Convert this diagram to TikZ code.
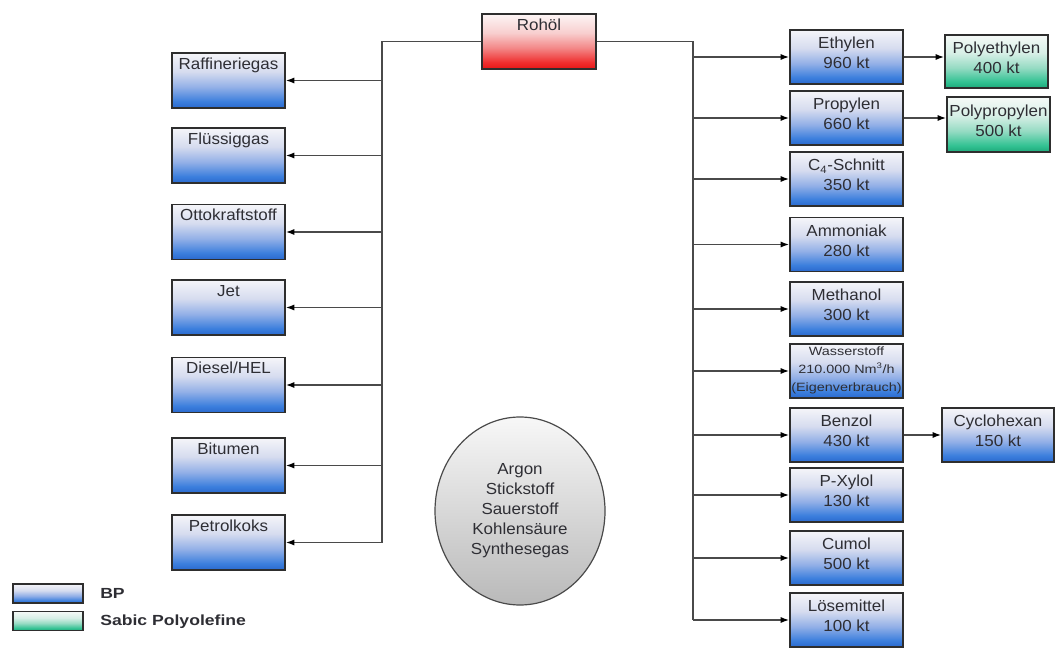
\documentclass[tikz,border=0pt]{standalone}
\usepackage{fontspec}
\setmainfont{Liberation Sans}
\newfontfamily\dfont[FakeStretch=1.06]{Liberation Sans}
\newfontfamily\nfont[FakeStretch=1.2]{Liberation Sans}
\newfontfamily\legfont[FakeStretch=1.2]{Liberation Sans}
\usetikzlibrary{arrows.meta,shapes.geometric}

\definecolor{boxline}{HTML}{2E2E2E}
\definecolor{conncol}{HTML}{4A4A4A}
\definecolor{txtcol}{HTML}{2E2E34}

\definecolor{bpA}{HTML}{2A69CE}
\definecolor{bpB}{HTML}{3C7FDD}
\definecolor{bpC}{HTML}{93B0E7}
\definecolor{bpD}{HTML}{D6DCEF}
\definecolor{bpE}{HTML}{F5F5F9}
\definecolor{sbA}{HTML}{1DA97A}
\definecolor{sbB}{HTML}{33C293}
\definecolor{sbC}{HTML}{95DBC3}
\definecolor{sbD}{HTML}{D7EFE6}
\definecolor{sbE}{HTML}{F5F9F7}
\definecolor{oilA}{HTML}{E51616}
\definecolor{oilB}{HTML}{EF2E2E}
\definecolor{oilC}{HTML}{F38787}
\definecolor{oilD}{HTML}{F8CFCF}
\definecolor{oilE}{HTML}{FCF5F5}

% vertical shadings, listed from bottom (25bp) to top (75bp)
\pgfdeclareverticalshading{bpshade}{100bp}{%
  color(0bp)=(bpA); color(25bp)=(bpA); color(31bp)=(bpB);
  color(44bp)=(bpC); color(58bp)=(bpD); color(75bp)=(bpE); color(100bp)=(bpE)}
\pgfdeclareverticalshading{sabicshade}{100bp}{%
  color(0bp)=(sbA); color(25bp)=(sbA); color(31bp)=(sbB);
  color(44bp)=(sbC); color(58bp)=(sbD); color(75bp)=(sbE); color(100bp)=(sbE)}
\pgfdeclareverticalshading{oilshade}{100bp}{%
  color(0bp)=(oilA); color(25bp)=(oilA); color(31bp)=(oilB);
  color(44bp)=(oilC); color(58bp)=(oilD); color(75bp)=(oilE); color(100bp)=(oilE)}

\begin{document}
\begin{tikzpicture}[x=0.75pt,y=-0.75pt,
  box/.style={draw=boxline, line width=0.9pt, inner sep=0pt, rectangle},
  bp/.style={box, shading=bpshade, minimum width=84.75pt},
  rbox/.style={bp, minimum height=40.5pt},
  lbox/.style={bp, minimum height=41.25pt},
  sabic/.style={box, shading=sabicshade, minimum width=77.25pt},
  ttop/.style={anchor=north, inner sep=0pt, yshift=-3.5pt, text height=9pt,
    text depth=2.5pt, font=\dfont\fontsize{12}{15}\selectfont, text=txtcol},
  tmid/.style={anchor=center, align=center, inner sep=0pt, yshift=3pt,
    font=\dfont\fontsize{12}{15}\selectfont, text=txtcol},
  tsmall/.style={anchor=center, align=center, inner sep=0pt, yshift=0.5pt,
    font=\nfont\fontsize{9}{13.5}\selectfont, text=txtcol},
  conn/.style={draw=conncol, line width=1.2pt},
  arr/.style={conn, -{Latex[length=6.5pt,width=4.5pt,color=black]}},
  legtext/.style={anchor=west, inner sep=0pt,
    font=\legfont\bfseries\fontsize{11}{13}\selectfont, text=txtcol}
]
\useasboundingbox (0,0) rectangle (1063,648);

% crude oil
\node[box, shading=oilshade, minimum width=85.5pt, minimum height=41.25pt,
      label={[ttop]north:Rohöl}] (roh) at (539,41.5) {};

% refinery products (left)
\node[lbox, label={[ttop]north:Raffineriegas}]  (raf)  at (228.5,80.5) {};
\node[lbox, label={[ttop]north:Flüssiggas}]     (fl)   at (228.5,155.5) {};
\node[lbox, label={[ttop]north:Ottokraftstoff}] (otto) at (228.5,232) {};
\node[lbox, label={[ttop]north:Jet}]            (jet)  at (228.5,307.5) {};
\node[lbox, label={[ttop]north:Diesel/HEL}]     (dies) at (228.5,385) {};
\node[lbox, label={[ttop]north:Bitumen}]        (bit)  at (228.5,465.5) {};
\node[lbox, label={[ttop]north:Petrolkoks}]     (pk)   at (228.5,542.5) {};

% petrochemical products (right)
\node[rbox, label={[tmid]center:{Ethylen\\960 kt}}]   (eth)   at (846.5,57) {};
\node[rbox, label={[tmid]center:{Propylen\\660 kt}}]  (prop)  at (846.5,118) {};
\node[rbox, label={[tmid]center:{C\textsubscript{4}-Schnitt\\350 kt}}] (cfour) at (846.5,179) {};
\node[rbox, label={[tmid]center:{Ammoniak\\280 kt}}]  (amm)   at (846.5,244.5) {};
\node[rbox, label={[tmid]center:{Methanol\\300 kt}}]  (meth)  at (846.5,309) {};
\node[rbox, label={[tsmall]center:{Wasserstoff\\210.000 Nm\textsuperscript{3}/h\\(Eigenverbrauch)}}] (wass) at (846.5,371) {};
\node[rbox, label={[tmid]center:{Benzol\\430 kt}}]    (benz)  at (846.5,435) {};
\node[rbox, label={[tmid]center:{P-Xylol\\130 kt}}]   (px)    at (846.5,495) {};
\node[rbox, label={[tmid]center:{Cumol\\500 kt}}]     (cum)   at (846.5,558) {};
\node[rbox, label={[tmid]center:{Lösemittel\\100 kt}}] (loes) at (846.5,620) {};

% downstream products
\node[sabic, minimum height=39.75pt, label={[tmid]center:{Polyethylen\\400 kt}}]  (pe) at (996.5,61.5) {};
\node[sabic, minimum height=41.25pt, label={[tmid]center:{Polypropylen\\500 kt}}] (pp) at (998.5,124.5) {};
\node[box, shading=bpshade, minimum width=84pt, minimum height=40.5pt,
      label={[tmid]center:{Cyclohexan\\150 kt}}] (cyc) at (998,435) {};

% gases
\node[ellipse, draw=conncol, line width=0.9pt, top color=white!94!gray,
      bottom color=gray!55, minimum width=127.5pt, minimum height=141pt,
      align=center, text=txtcol, font=\dfont\fontsize{12}{15}\selectfont] (gas) at (520,511)
      {Argon\\Stickstoff\\Sauerstoff\\Kohlensäure\\Synthesegas};

% distribution lines
\coordinate (lb) at (382,542.5);
\coordinate (rb) at (693,620);
\draw[conn] (roh.west) -| (lb);
\draw[conn] (roh.east) -| (rb);
\foreach \n in {raf,fl,otto,jet,dies,bit,pk}
  \draw[arr] (lb |- \n) -- (\n.east);
\foreach \n in {eth,prop,cfour,amm,meth,wass,benz,px,cum,loes}
  \draw[arr] (rb |- \n) -- (\n.west);
\draw[arr] (eth.east) -- (eth.east -| pe.west);
\draw[arr] (prop.east) -- (prop.east -| pp.west);
\draw[arr] (benz.east) -- (cyc.west);

% legend
\node[box, shading=bpshade, minimum width=52.5pt, minimum height=14.25pt] (legbp) at (48,593.5) {};
\node[box, shading=sabicshade, minimum width=52.5pt, minimum height=14.25pt] (legsab) at (48,621) {};
\node[legtext] (legbpt) at (100,593.5) {BP};
\node[legtext] (legsabt) at (100,622) {Sabic Polyolefine};
\end{tikzpicture}
\end{document}
